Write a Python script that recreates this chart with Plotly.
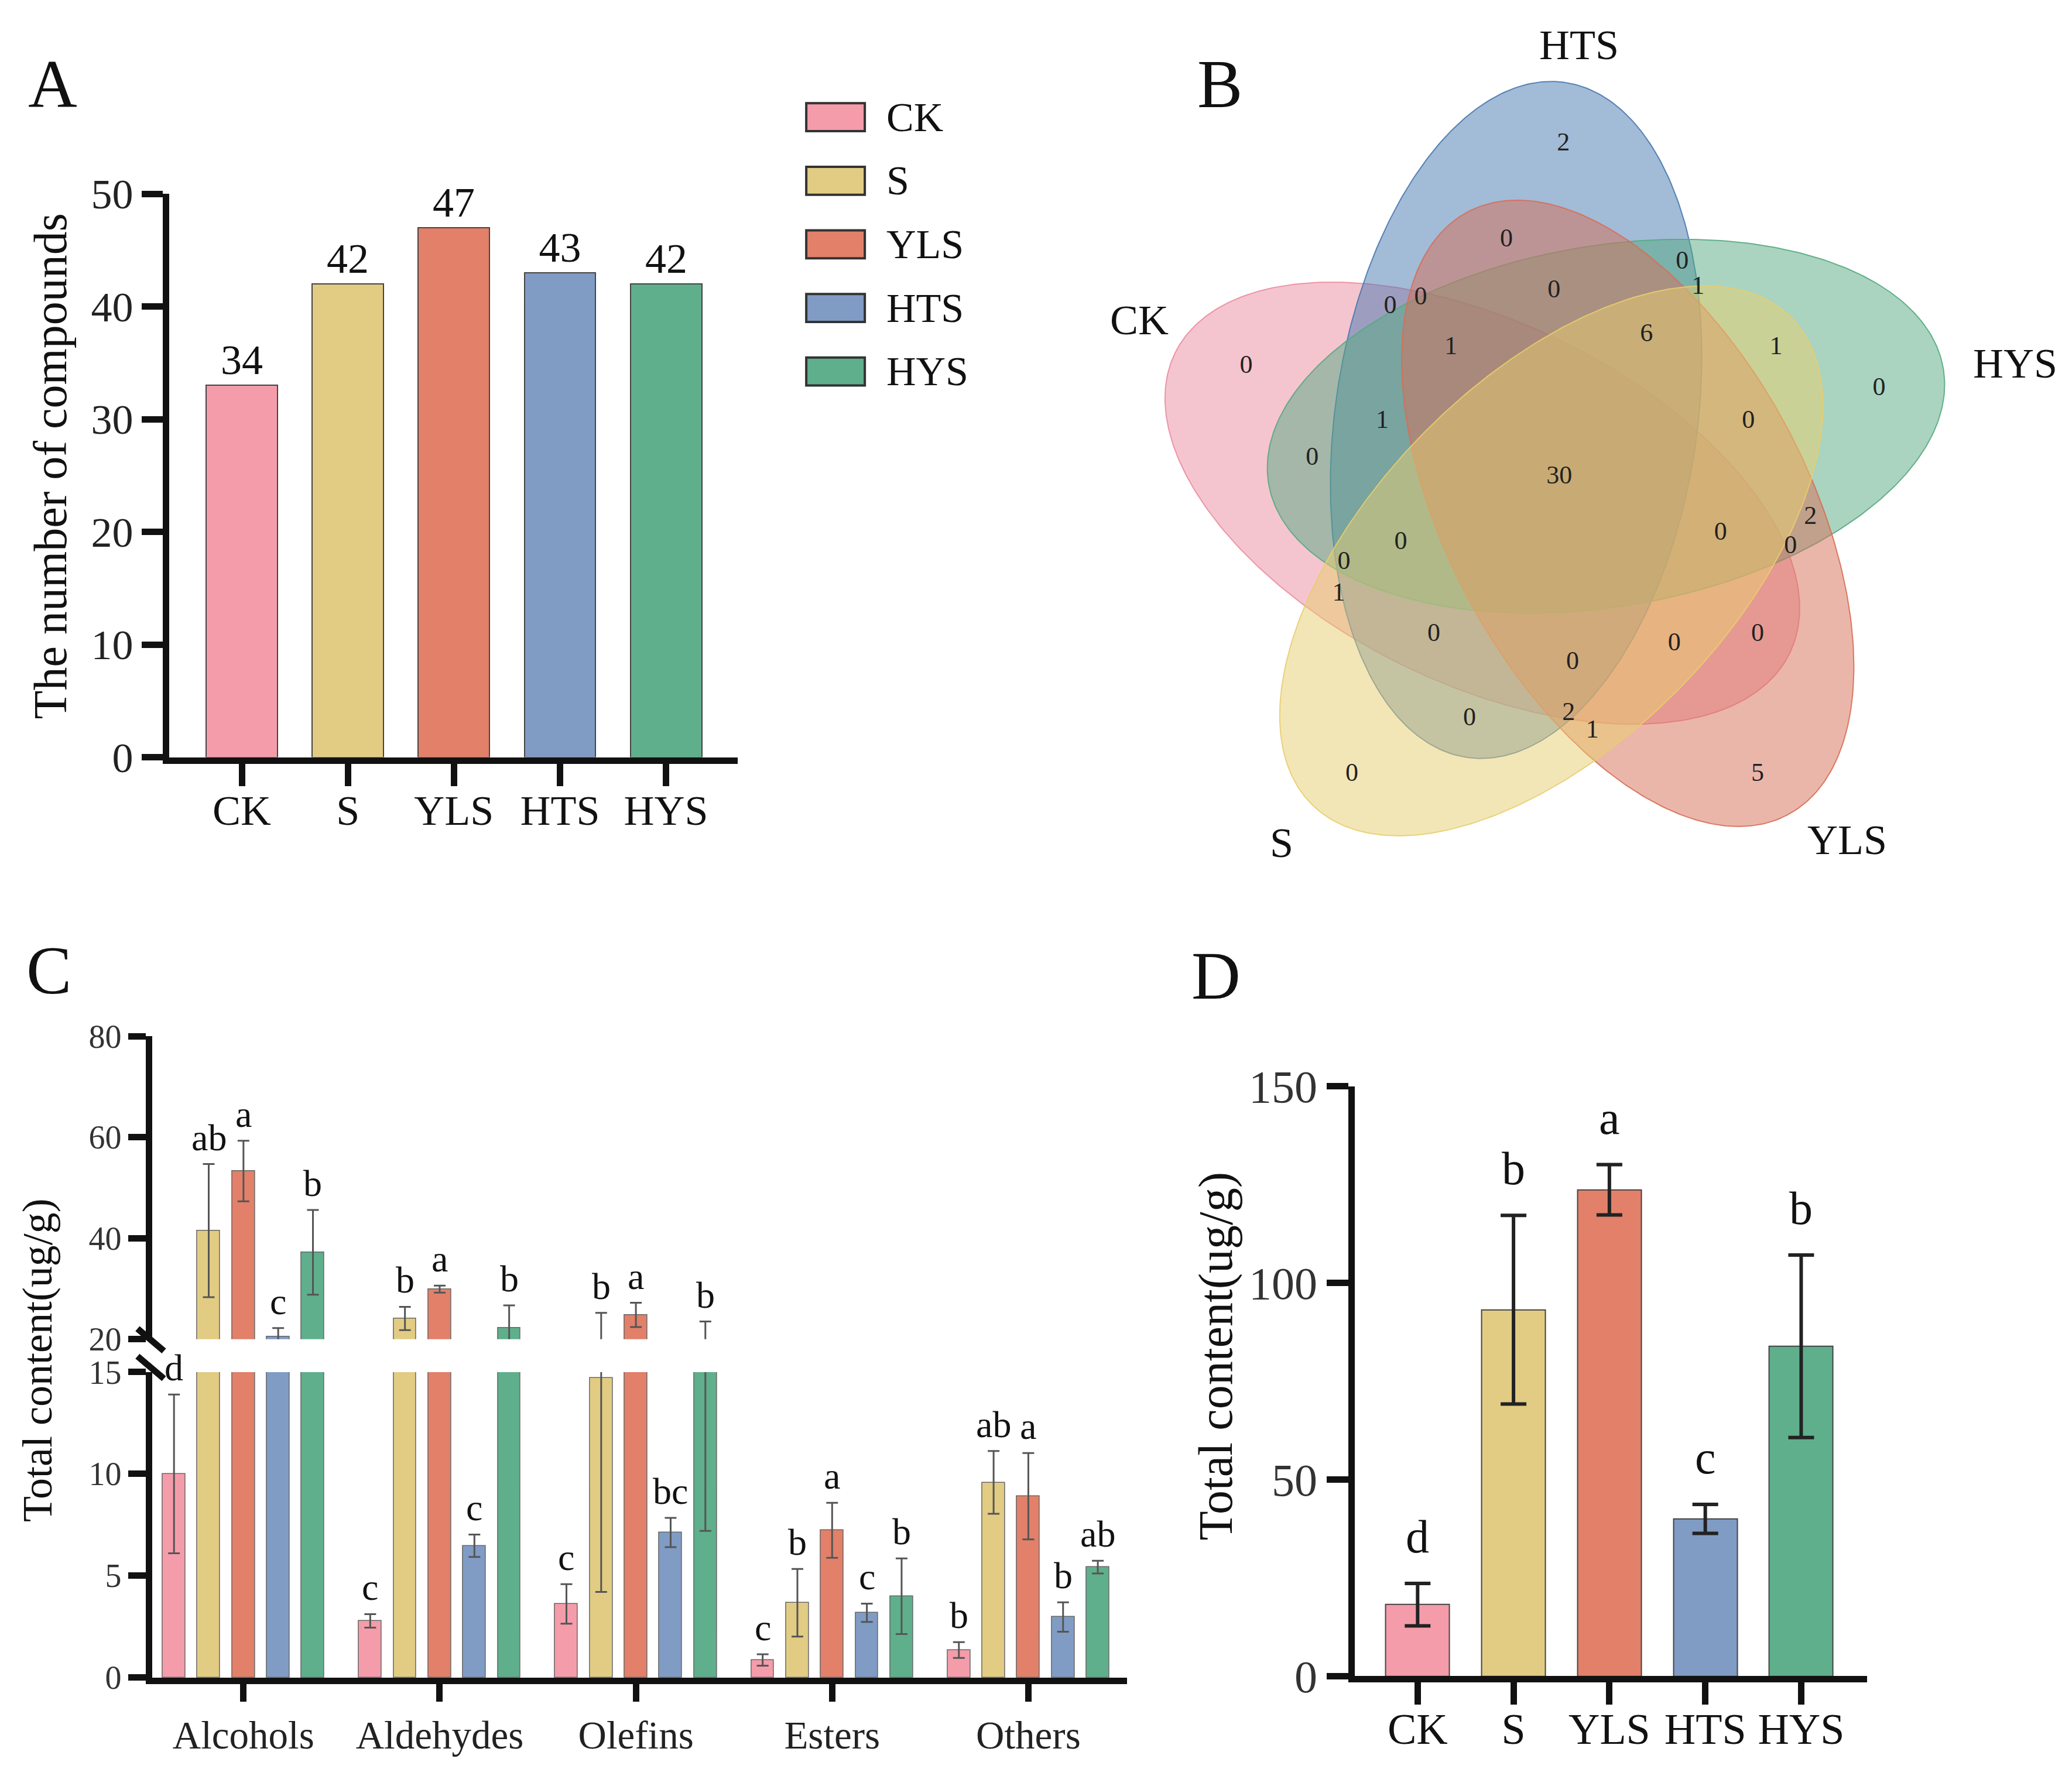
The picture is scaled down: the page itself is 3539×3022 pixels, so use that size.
import numpy as np
import plotly.graph_objects as go

FONT = "Liberation Serif"
W, H = 3539, 3022
W0 = 1568.0          # horizontal layout grid units
X_OFF = 3.5          # page offset in grid units
Y_OFF, Y_SPAN = 20.5, 1305.0   # vertical placement of the paper in grid units

# ---------------- data ----------------
groups = ["CK", "S", "YLS", "HTS", "HYS"]
group_colors = ["#F49CAA", "#E2CC84", "#E2806A", "#809CC4", "#5FAF8C"]

# Panel A: number of compounds
compound_counts = [33, 42, 47, 43, 42]
compound_labels = ["34", "42", "47", "43", "42"]

# Panel B: Venn diagram region counts
venn_sets = ["HYS", "HTS", "CK", "S", "YLS"]
venn_fill = ["rgba(85,170,130,0.5)", "rgba(70,120,175,0.5)", "rgba(235,140,160,0.5)",
             "rgba(232,205,110,0.5)", "rgba(215,110,85,0.5)"]
venn_counts = [2, 0, 0, 1, 0, 0, 0, 6, 1, 1, 0, 0, 1, 0, 0, 30,
               2, 0, 0, 0, 0, 1, 0, 0, 0, 0, 0, 2, 1, 0, 5]
venn_label_x = [1183, 1140, 1273, 1285, 1052, 1075, 1176, 1246, 1098, 1344, 943, 1422, 1046, 1323, 993, 1180,
                1370, 1302, 1355, 1060, 1017, 1013, 1085, 1190, 1267, 1330, 1112, 1187, 1205, 1023, 1330]
venn_label_y = [107, 180, 197, 216, 231, 224, 219, 252, 262, 262, 276, 293, 318, 318, 346, 360,
                391, 403, 413, 410, 425, 449, 480, 501, 487, 480, 544, 540, 553, 586, 586]

# Panel C: content by compound class
classes = ["Alcohols", "Aldehydes", "Olefins", "Esters", "Others"]
content_CK = [10.0, 2.78, 3.61, 0.86, 1.35]
content_S = [41.5, 24.1, 14.7, 3.67, 9.58]
content_YLS = [53.3, 29.9, 24.8, 7.23, 8.90]
content_HTS = [20.5, 6.47, 7.12, 3.18, 2.97]
content_HYS = [37.2, 22.2, 15.35, 3.99, 5.42]
sd_CK = [3.9, 0.33, 0.97, 0.28, 0.39]
sd_S = [13.2, 2.3, 10.5, 1.66, 1.54]
sd_YLS = [6.0, 0.7, 2.4, 1.35, 2.12]
sd_HTS = [1.7, 0.55, 0.72, 0.45, 0.72]
sd_HYS = [8.4, 4.5, 8.15, 1.86, 0.31]
sig_CK = ["d", "c", "c", "c", "b"]
sig_S = ["ab", "b", "b", "b", "ab"]
sig_YLS = ["a", "a", "a", "a", "a"]
sig_HTS = ["c", "c", "bc", "c", "b"]
sig_HYS = ["b", "b", "b", "b", "ab"]

# Panel D: total content
total_mean = [18.2, 93.2, 123.7, 40.0, 83.9]
total_sd = [5.4, 24.0, 6.4, 3.7, 23.2]
total_sig = ["d", "b", "a", "c", "b"]

# ---------------- helpers ----------------
def px(x):
    return (x - X_OFF) / W0

def py(y):
    return 1 - (y - Y_OFF) / Y_SPAN

fig = go.Figure()
annotations = []
shapes = []

def ann(text, x, y, size, **kw):
    d = dict(text=text, x=px(x), y=py(y), xref="paper", yref="paper", showarrow=False,
             font=dict(family=FONT, size=size, color="#111"), xanchor="center", yanchor="middle")
    d.update(kw)
    annotations.append(d)

# ---------------- Panel A ----------------
fig.add_trace(go.Bar(
    x=list(range(5)), y=compound_counts, width=0.673,
    marker=dict(color=group_colors, line=dict(color="#444", width=2)),
    text=compound_labels, textposition="outside", cliponaxis=False,
    textfont=dict(family=FONT, size=72, color="#111"),
    xaxis="x", yaxis="y", showlegend=False))

# legend of panel A
leg_top = [172, 281, 390, 499, 608]
for g, c, t in zip(groups, group_colors, leg_top):
    y0 = t / 2.257
    y1 = (t + 48) / 2.257
    shapes.append(dict(type="rect", xref="paper", yref="paper",
                       x0=px(1377 / 2.257), x1=px(1477 / 2.257), y0=py(y1), y1=py(y0),
                       fillcolor=c, line=dict(color="#333", width=4)))
    ann(g, 1512 / 2.257, (y0 + y1) / 2, 70, xanchor="left")

ann("The number of compounds", 38, 352, 80, textangle=-90)

# ---------------- Panel B (Venn) ----------------
cx, cy, dist, a_ax, b_ax = 1178.0, 366.0, 58.0, 259.0, 137.0
t = np.linspace(0, 2 * np.pi, 361)
order = [2, 1, 0, 4, 3]  # draw order: CK, HTS, HYS, YLS, S
for k in order:
    th = np.deg2rad(50 + 72 * k)
    ph = th - np.deg2rad(40.2)
    xc = cx + dist * np.cos(th)
    yc = cy - dist * np.sin(th)
    xs = xc + a_ax * np.cos(t) * np.cos(ph) - b_ax * np.sin(t) * np.sin(ph)
    ys = yc - (a_ax * np.cos(t) * np.sin(ph) + b_ax * np.sin(t) * np.cos(ph))
    line_col = venn_fill[k].replace("0.5)", "0.9)")
    fig.add_trace(go.Scatter(x=xs, y=ys, mode="lines", fill="toself",
                             fillcolor=venn_fill[k], line=dict(color=line_col, width=2),
                             xaxis="x5", yaxis="y5", showlegend=False, hoverinfo="skip"))

fig.add_trace(go.Scatter(x=venn_label_x, y=venn_label_y, mode="text",
                         text=[str(v) for v in venn_counts],
                         textfont=dict(family=FONT, size=44, color="#222"),
                         xaxis="x5", yaxis="y5", showlegend=False))

venn_name_pos = {"HTS": (1195, 32), "CK": (862, 241), "HYS": (1525, 274),
                 "S": (970, 638), "YLS": (1398, 636)}
for name in venn_sets:
    x, y = venn_name_pos[name]
    ann(name, x, y, 72)

# ---------------- Panel C ----------------
contents = [content_CK, content_S, content_YLS, content_HTS, content_HYS]
sds = [sd_CK, sd_S, sd_YLS, sd_HTS, sd_HYS]
sigs = [sig_CK, sig_S, sig_YLS, sig_HTS, sig_HYS]
step, bw = 0.177, 0.116
for k in range(5):
    xs = [i + (k - 2) * step for i in range(5)]
    for xa, ya in (("x2", "y2"), ("x3", "y3")):
        fig.add_trace(go.Bar(
            x=xs, y=contents[k], width=bw,
            marker=dict(color=group_colors[k], line=dict(color="#666", width=1.5)),
            error_y=dict(type="data", array=sds[k], color="#555", thickness=3, width=10),
            xaxis=xa, yaxis=ya, showlegend=False))
    for i in range(5):
        top = contents[k][i] + sds[k][i]
        ref = ("x3", "y3") if top >= 20 else ("x2", "y2")
        annotations.append(dict(text=sigs[k][i], x=xs[i], y=top, xref=ref[0], yref=ref[1],
                                showarrow=False, yanchor="bottom", xanchor="center", yshift=8,
                                font=dict(family=FONT, size=64, color="#111")))

# break marks on the y axis
for yb in (1016, 1037):
    shapes.append(dict(type="line", xref="paper", yref="paper",
                       x0=px(104), y0=py(yb - 9), x1=px(124), y1=py(yb + 8),
                       line=dict(color="#111", width=11)))

ann("Total content(ug/g)", 28, 1031, 72, textangle=-90)

# ---------------- Panel D ----------------
fig.add_trace(go.Bar(
    x=list(range(5)), y=total_mean, width=0.665,
    marker=dict(color=group_colors, line=dict(color="#444", width=2)),
    error_y=dict(type="data", array=total_sd, color="#222", thickness=6, width=22),
    xaxis="x4", yaxis="y4", showlegend=False))
for i in range(5):
    annotations.append(dict(text=total_sig[i], x=i, y=total_mean[i] + total_sd[i],
                            xref="x4", yref="y4", showarrow=False, yanchor="bottom",
                            yshift=34, font=dict(family=FONT, size=80, color="#111")))
ann("Total content(ug/g)", 920, 1028, 82, textangle=-90)

# panel letters
for L, x, y in (("A", 40, 62), ("B", 923, 62), ("C", 37, 735), ("D", 920, 739)):
    ann(L, x, y, 116)

# ---------------- axes ----------------
axis_common = dict(showline=True, linecolor="#111", linewidth=11, ticks="outside",
                   tickcolor="#111", tickwidth=11, showgrid=False, zeroline=False,
                   fixedrange=True)

fig.update_layout(
    width=W, height=H, margin=dict(l=0, r=0, t=0, b=0),
    paper_bgcolor="white", plot_bgcolor="rgba(0,0,0,0)",
    barmode="overlay", bargap=0,
    xaxis=dict(domain=[px(128), px(558)], range=[-0.685, 4.673], anchor="y",
               tickvals=list(range(5)), ticktext=groups, ticklen=38, ticklabelstandoff=-20,
               tickfont=dict(family=FONT, size=72, color="#111"), **axis_common),
    yaxis=dict(domain=[py(573), py(145)], range=[0, 50], anchor="x", dtick=10, ticklen=36,
               tickfont=dict(family=FONT, size=72, color="#222"), **axis_common),
    xaxis2=dict(domain=[px(115), px(853)], range=[-0.466, 4.504], anchor="y2",
                tickvals=list(range(5)), ticktext=classes, ticklen=30,
                tickfont=dict(family=FONT, size=67, color="#222"), **axis_common),
    yaxis2=dict(domain=[py(1272), py(1040)], range=[0, 15], anchor="x2",
                tickvals=[0, 5, 10, 15], ticklen=30,
                tickfont=dict(family=FONT, size=56, color="#333"), **axis_common),
    xaxis3=dict(domain=[px(115), px(853)], range=[-0.466, 4.504], anchor="y3",
                visible=False, matches="x2"),
    yaxis3=dict(domain=[py(1015), py(785)], range=[20, 80], anchor="x3",
                tickvals=[20, 40, 60, 80], ticklen=30,
                tickfont=dict(family=FONT, size=56, color="#333"), **axis_common),
    xaxis4=dict(domain=[px(1025), px(1413)], range=[-0.658, 4.689], anchor="y4",
                tickvals=list(range(5)), ticktext=groups, ticklen=38, ticklabelstandoff=-22,
                tickfont=dict(family=FONT, size=74, color="#111"), **axis_common),
    yaxis4=dict(domain=[py(1271), py(823)], range=[0, 150], anchor="x4",
                tickvals=[0, 50, 100, 150], ticklen=37,
                tickfont=dict(family=FONT, size=78, color="#333"), **axis_common),
    xaxis5=dict(domain=[px(870), px(1568)], range=[870, 1568], anchor="y5", visible=False,
                fixedrange=True),
    yaxis5=dict(domain=[py(680), 1.0], range=[680, Y_OFF], anchor="x5", visible=False,
                fixedrange=True),
    annotations=annotations, shapes=shapes,
    showlegend=False,
)

fig.write_html("out.html")
